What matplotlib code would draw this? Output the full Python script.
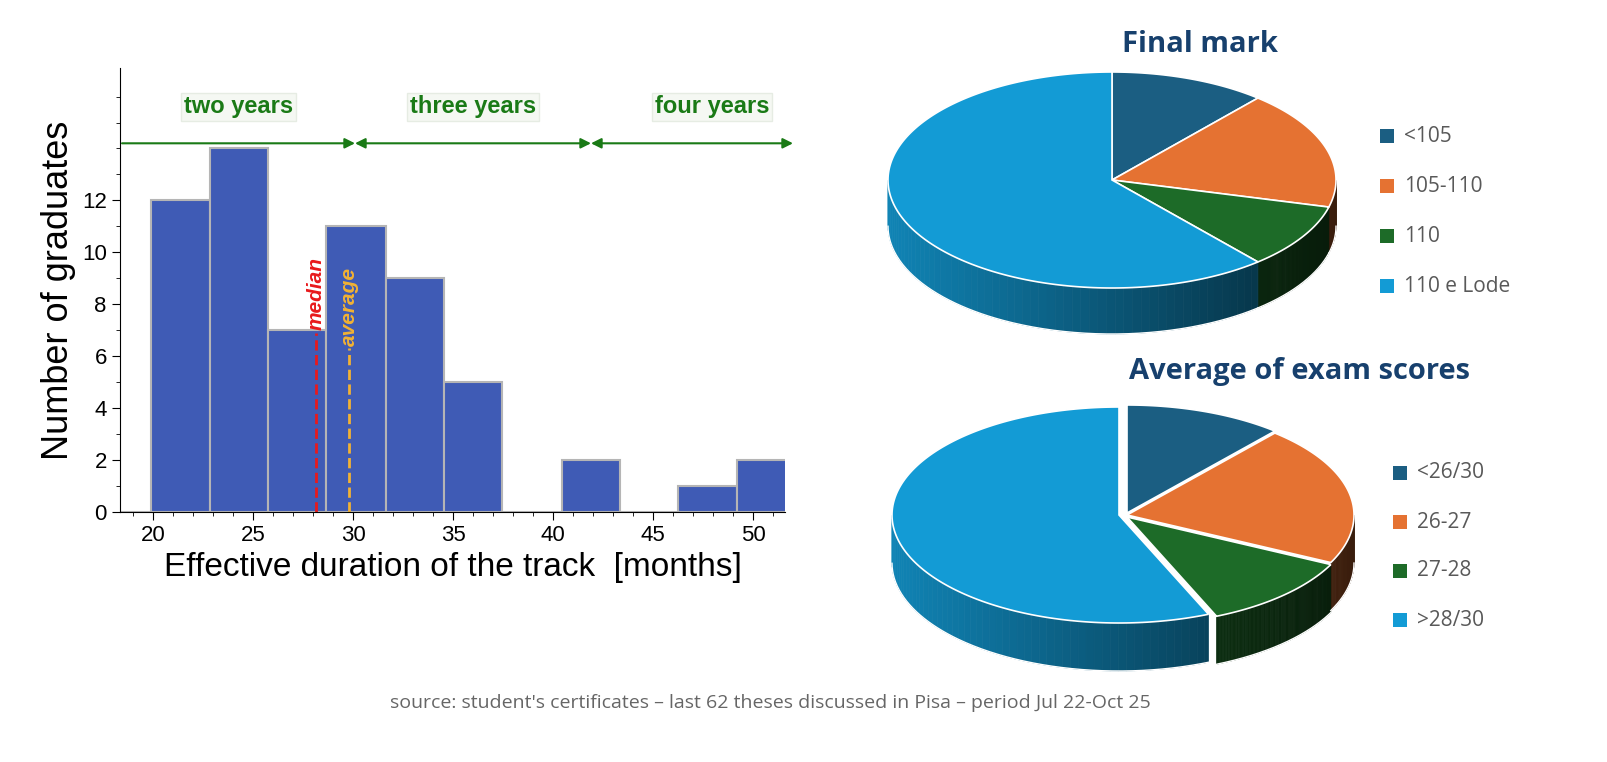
import numpy as np
import matplotlib
matplotlib.use("Agg")
import matplotlib.pyplot as plt
from matplotlib.patches import Polygon, Rectangle
import matplotlib.colors as mc

plt.rcParams['font.family'] = ['Liberation Sans', 'DejaVu Sans']

# ---------------- data ----------------
bin_edges = [19.9, 22.85, 25.75, 28.65, 31.65, 34.55, 37.45, 40.45, 43.35, 46.25, 49.2, 52.1]
counts = [12, 14, 7, 11, 9, 5, 0, 2, 0, 1, 2]
median_val = 28.15
average_val = 29.8
period_labels = ["two years", "three years", "four years"]
period_bounds = [18.45, 30.1, 41.9, 52.0]

final_labels = ["<105", "105-110", "110", "110 e Lode"]
final_counts = [7, 11, 6, 38]
exam_labels = ["<26/30", "26-27", "27-28", ">28/30"]
exam_counts = [7, 13, 7, 35]
pie_colors = ["#1b5e82", "#e57232", "#1d6b28", "#139bd5"]

fig = plt.figure(figsize=(16.08, 7.62), dpi=100)

# ---------------- histogram ----------------
ax = fig.add_axes([120/1608, 1-512/762, 665/1608, 444/762])
widths = np.diff(bin_edges)
ax.bar(bin_edges[:-1], counts, width=widths, align="edge", color="#3f5bb5",
       edgecolor="#b5b5b5", linewidth=1.5, clip_on=True)
ax.plot([18.35, bin_edges[0]], [0, 0], color="#b5b5b5", lw=1.5)
ax.set_xlim(18.35, 51.6)
ax.set_ylim(0, 17.1)
ax.set_xticks([20, 25, 30, 35, 40, 45, 50])
ax.set_xticks(np.arange(19, 52, 1), minor=True)
ax.set_yticks(range(0, 13, 2))
ax.set_yticks(range(1, 17, 1), minor=True)
ax.tick_params(labelsize=16, length=6)
ax.tick_params(which="minor", length=3)
ax.spines["top"].set_visible(False)
ax.spines["right"].set_visible(False)
ax.set_ylabel("Number of graduates", fontsize=26)
ax.set_xlabel("Effective duration of the track  [months]", fontsize=24)

ax.plot([median_val]*2, [0, 6.9], ls="--", color="#e8191c", lw=2)
ax.text(median_val, 7.0, "median", rotation=90, color="#e8191c", fontsize=15,
        fontweight="bold", fontstyle="italic", ha="center", va="bottom")
ax.plot([average_val]*2, [0, 6.3], ls="--", color="#f2b233", lw=2)
ax.text(average_val, 6.4, "average", rotation=90, color="#f2b233", fontsize=15,
        fontweight="bold", fontstyle="italic", ha="center", va="bottom")

green = "#1a7a16"
ay = 14.2
styles = ["-|>", "<|-|>", "<|-|>"]
for i, lab in enumerate(period_labels):
    a, b = period_bounds[i], period_bounds[i+1]
    ax.annotate("", xy=(b, ay), xytext=(a, ay),
                arrowprops=dict(arrowstyle=styles[i], color=green, lw=1.5,
                                shrinkA=0, shrinkB=0, mutation_scale=15),
                annotation_clip=False)
    ax.text((a+b)/2 + (1.0 if i == 2 else 0), 15.6, lab, color=green, fontsize=17,
            fontweight="bold", ha="center", va="center",
            bbox=dict(facecolor="#f5f8f3", edgecolor="#e6ece3", pad=2))

# ---------------- pies ----------------
pax = fig.add_axes([870/1608, 0, 738/1608, 1])
pax.set_xlim(870, 1608)
pax.set_ylim(762, 0)
pax.axis("off")


def shade(c, f):
    r, g, b = mc.to_rgb(c)
    return (r*f, g*f, b*f)


def draw_pie(cx, cy, rx, ry, depth, values, colors, offsets):
    total = sum(values)
    start = 90.0
    wedges = []
    for v, col, off in zip(values, colors, offsets):
        span = 360.0 * v / total
        wedges.append((start - span, start, col, off))
        start -= span
    for a1, a2, col, (ox, oy) in wedges:
        ts = np.linspace(a1, a2, 400)
        tt = ((ts + 180) % 360) - 180
        mask = (tt >= -180) & (tt <= 0)
        if not mask.any():
            continue
        tsel = ts[mask]
        n = len(tsel)
        for k in range(0, n - 1, 4):
            seg = tsel[k:min(k+5, n)]
            xs = cx + ox + rx*np.cos(np.radians(seg))
            ys = cy + oy - ry*np.sin(np.radians(seg))
            frac = (np.cos(np.radians(seg.mean())) + 1) / 2
            f = 0.85 - 0.6*frac
            poly = np.concatenate([np.c_[xs, ys], np.c_[xs[::-1], ys[::-1] + depth]])
            pax.add_patch(Polygon(poly, closed=True, facecolor=shade(col, f),
                                  edgecolor=shade(col, f), lw=0.5))
        xs = cx + ox + rx*np.cos(np.radians(tsel))
        ys = cy + oy - ry*np.sin(np.radians(tsel))
        pax.plot(xs, ys + depth, color="white", lw=1)
    for a1, a2, col, (ox, oy) in wedges:
        ts = np.linspace(a1, a2, 200)
        xs = cx + ox + rx*np.cos(np.radians(ts))
        ys = cy + oy - ry*np.sin(np.radians(ts))
        poly = np.vstack([[cx+ox, cy+oy], np.c_[xs, ys]])
        pax.add_patch(Polygon(poly, closed=True, facecolor=col, edgecolor="white", lw=1.2))


def draw_legend(x, y0, dy, labels, colors):
    for i, (lab, col) in enumerate(zip(labels, colors)):
        y = y0 + i*dy
        pax.add_patch(Rectangle((x, y-7), 14, 14, facecolor=col, edgecolor="none"))
        pax.text(x + 24, y, lab, fontsize=15, color="#595959", va="center", ha="left",
                 family="Open Sans")


draw_pie(1112, 180, 224, 108, 46, final_counts, pie_colors, [(0, 0)]*4)
pax.text(1200, 45, "Final mark", fontsize=21, fontweight="bold", color="#17406d",
         ha="center", va="center", family="Open Sans")
draw_legend(1380, 136, 50, final_labels, pie_colors)

draw_pie(1125, 515, 227, 108, 48, exam_counts, pie_colors,
         [(2, -2), (2, 0), (2, 2), (-6, 0)])
pax.text(1300, 372, "Average of exam scores", fontsize=21, fontweight="bold",
         color="#17406d", ha="center", va="center", family="Open Sans")
draw_legend(1393, 473, 49, exam_labels, pie_colors)

fig.text(770/1608, 1-703/762, "source: student's certificates \u2013 last 62 theses discussed in Pisa \u2013 period Jul 22-Oct 25",
         fontsize=14, color="#666666", ha="center", va="center", family="Open Sans")

fig.savefig("out.png", dpi=100)
